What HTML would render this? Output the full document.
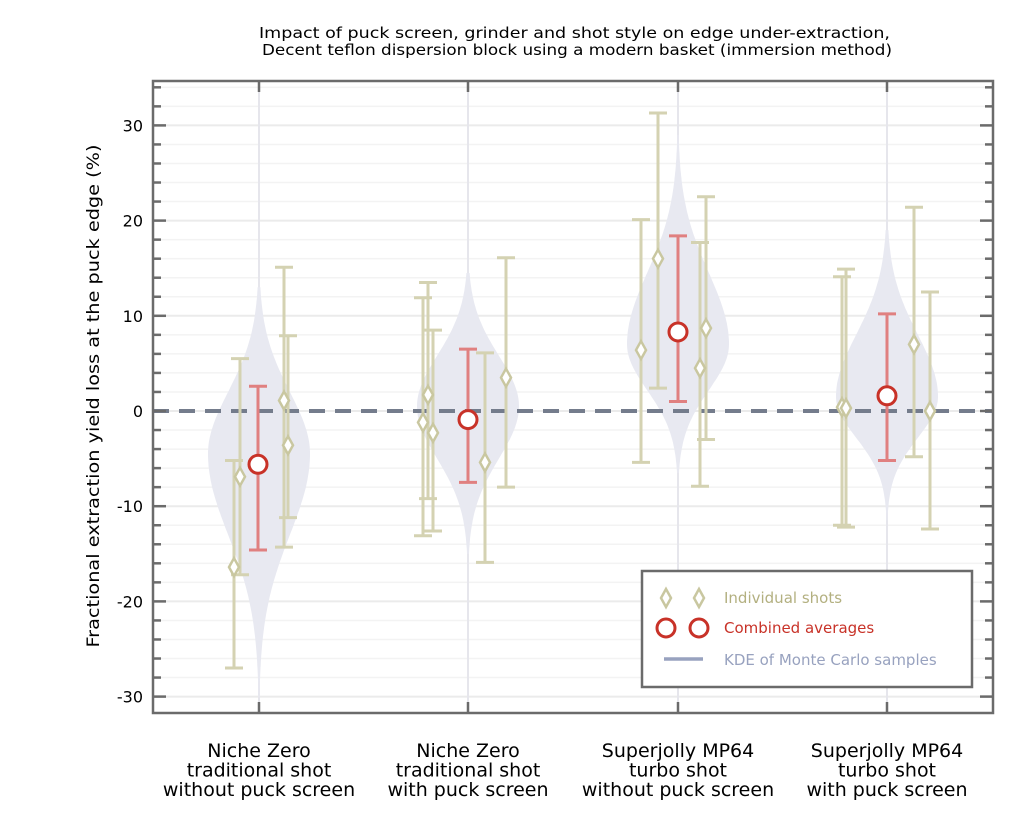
<!DOCTYPE html>
<html><head><meta charset="utf-8"><style>
html,body{margin:0;padding:0;background:#fff;}
svg{display:block;font-family:"DejaVu Sans","Liberation Sans",sans-serif;}
</style></head><body>
<svg id="s" width="1024" height="819" viewBox="0 0 1024 819" xmlns="http://www.w3.org/2000/svg">
<text x="574.5" y="38" font-size="15" text-anchor="middle" textLength="631" lengthAdjust="spacingAndGlyphs">Impact of puck screen, grinder and shot style on edge under-extraction,</text>
<text x="577" y="55" font-size="15" text-anchor="middle" textLength="630" lengthAdjust="spacingAndGlyphs">Decent teflon dispersion block using a modern basket (immersion method)</text>
<text transform="translate(99,396) rotate(-90)" font-size="17" text-anchor="middle" textLength="503" lengthAdjust="spacingAndGlyphs">Fractional extraction yield loss at the puck edge (%)</text>
<g id="g"></g>
</svg>
<script>
var NS="http://www.w3.org/2000/svg",g=document.getElementById('g');
function el(t,a,txt){var e=document.createElementNS(NS,t);for(var k in a)e.setAttribute(k,a[k]);if(txt!==undefined)e.textContent=txt;g.appendChild(e);return e;}
function Y(v){return 411-9.52*v;}
var L=153,R=993,T=81,B=713;
for(var v=-32;v<=34;v+=2){var y=Y(v);if(y<T||y>B)continue;var maj=(v%10===0);
el('line',{x1:L,x2:R,y1:y,y2:y,stroke:maj?'#ebebeb':'#f3f3f3','stroke-width':maj?2:1.5});}
var cx=[259,468,678,887];
cx.forEach(function(x){el('line',{x1:x,x2:x,y1:T,y2:B,stroke:'#e6e6ec','stroke-width':2});});
var vi=[[-4.5,6.5,8.5,-30,13],[0.5,5.3,5.5,-15,14.5],[7,7.5,4.8,-6.5,29],[1.5,6.5,4.3,-11.5,19]];
vi.forEach(function(p,i){var c=cx[i],r=[],l=[];for(var v=p[3];v<=p[4];v+=0.25){var s=v>p[0]?p[1]:p[2];var w=51*Math.exp(-0.5*Math.pow((v-p[0])/s,2));r.push((c+w).toFixed(1)+','+Y(v).toFixed(1));l.unshift((c-w).toFixed(1)+','+Y(v).toFixed(1));}
el('polygon',{points:r.concat(l).join(' '),fill:'#e8e9f1'});});
el('line',{x1:L,x2:R,y1:Y(0),y2:Y(0),stroke:'#747c8c','stroke-width':4,'stroke-dasharray':'16,10'});
var bars=[[234,-27,-5.2,-16.4],[240,-17.2,5.5,-6.9],[284,-14.3,15.1,1.1],[288,-11.2,7.9,-3.6],
[423,-13.1,11.9,-1.2],[428,-9.2,13.5,1.7],[433,-12.6,8.5,-2.3],[485,-15.9,6.1,-5.4],[506,-8,16.1,3.5],
[641,-5.4,20.1,6.4],[658,2.4,31.3,16],[700,-7.9,17.7,4.5],[706,-3,22.5,8.7],
[842,-12,14.1,0.4],[846,-12.2,14.9,0.3],[914,-4.8,21.4,7],[930,-12.4,12.5,0]];
var gc='#d4d2b2';
function eb(x,lo,hi,col){el('line',{x1:x,x2:x,y1:Y(lo),y2:Y(hi),stroke:col,'stroke-width':3});
[lo,hi].forEach(function(v){el('line',{x1:x-9,x2:x+9,y1:Y(v),y2:Y(v),stroke:col,'stroke-width':3});});}
function dia(x,y){el('polygon',{points:(x)+','+(y-9)+' '+(x+5)+','+y+' '+x+','+(y+9)+' '+(x-5)+','+y,fill:'#fff',stroke:'#c9c7a0','stroke-width':2.5});}
bars.forEach(function(b){eb(b[0],b[1],b[2],gc);});
bars.forEach(function(b){dia(b[0],Y(b[3]));});
var reds=[[258,-14.6,2.6,-5.6],[468,-7.5,6.5,-0.9],[678,1,18.4,8.3],[887,-5.2,10.2,1.6]];
reds.forEach(function(b){eb(b[0],b[1],b[2],'#e08080');el('circle',{cx:b[0],cy:Y(b[3]),r:9,fill:'#fff',stroke:'#c83228','stroke-width':3});});
el('rect',{x:L,y:T,width:R-L,height:B-T,fill:'none',stroke:'#6b6b6b','stroke-width':2.5});
for(var v=-32;v<=34;v+=2){var y=Y(v);if(y<T+2||y>B-2)continue;var maj=(v%10===0),len=maj?13:8;
el('line',{x1:L,x2:L+len,y1:y,y2:y,stroke:'#6b6b6b','stroke-width':2.5});
el('line',{x1:R-len,x2:R,y1:y,y2:y,stroke:'#6b6b6b','stroke-width':2.5});
if(maj)el('text',{x:143,y:y+6,'font-size':16,'text-anchor':'end'},String(v));}
cx.forEach(function(x){el('line',{x1:x,x2:x,y1:T,y2:T+11,stroke:'#6b6b6b','stroke-width':2.5});el('line',{x1:x,x2:x,y1:B-11,y2:B,stroke:'#6b6b6b','stroke-width':2.5});});
var labs=[["Niche Zero","traditional shot","without puck screen"],["Niche Zero","traditional shot","with puck screen"],["Superjolly MP64","turbo shot","without puck screen"],["Superjolly MP64","turbo shot","with puck screen"]];
labs.forEach(function(a,i){a.forEach(function(t,j){el('text',{x:cx[i],y:757+j*19.5,'font-size':19,'text-anchor':'middle'},t);});});
el('rect',{x:642,y:571,width:330,height:116,fill:'#fff',stroke:'#6b6b6b','stroke-width':2.5});
dia(666,598);dia(699,598);
el('text',{x:724,y:603,'font-size':15,fill:'#b3b080'},'Individual shots');
el('circle',{cx:666,cy:628,r:9,fill:'#fff',stroke:'#c83228','stroke-width':3});
el('circle',{cx:699,cy:628,r:9,fill:'#fff',stroke:'#c83228','stroke-width':3});
el('text',{x:724,y:633,'font-size':15,fill:'#c83228'},'Combined averages');
el('line',{x1:664,x2:703,y1:659,y2:659,stroke:'#98a2bf','stroke-width':3.5});
el('text',{x:724,y:665,'font-size':15,fill:'#98a2bf'},'KDE of Monte Carlo samples');
</script>
</body></html>
